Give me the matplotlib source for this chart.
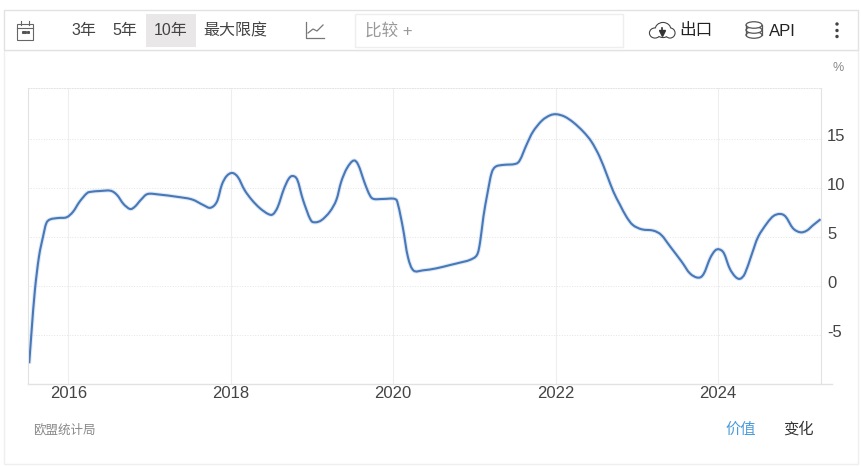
import matplotlib
matplotlib.use("Agg")
import matplotlib.pyplot as plt
from matplotlib.patches import Rectangle, Ellipse, Circle, PathPatch
from matplotlib.path import Path
from matplotlib.transforms import ScaledTranslation

years = [
    2015.52, 2015.55, 2015.59, 2015.64, 2015.69, 2015.73, 2015.78, 2015.88, 2015.98, 2016.06, 2016.14, 2016.23,
    2016.29, 2016.39, 2016.52, 2016.60, 2016.68, 2016.76, 2016.82, 2016.90, 2016.98, 2017.13, 2017.33, 2017.52,
    2017.66, 2017.75, 2017.83, 2017.89, 2017.95, 2018.02, 2018.09, 2018.17, 2018.26, 2018.36, 2018.46, 2018.52,
    2018.58, 2018.65, 2018.71, 2018.76, 2018.82, 2018.89, 2018.98, 2019.04, 2019.12, 2019.22, 2019.30, 2019.36,
    2019.43, 2019.51, 2019.57, 2019.65, 2019.71, 2019.76, 2019.88, 2020.02, 2020.06, 2020.12, 2020.18, 2020.25,
    2020.37, 2020.53, 2020.70, 2020.82, 2020.94, 2021.03, 2021.07, 2021.11, 2021.16, 2021.21, 2021.26, 2021.35,
    2021.50, 2021.56, 2021.64, 2021.72, 2021.83, 2021.93, 2022.01, 2022.11, 2022.22, 2022.34, 2022.44, 2022.54,
    2022.63, 2022.71, 2022.79, 2022.87, 2022.95, 2023.06, 2023.20, 2023.30, 2023.41, 2023.55, 2023.65, 2023.75,
    2023.82, 2023.90, 2023.96, 2024.01, 2024.07, 2024.14, 2024.21, 2024.27, 2024.33, 2024.41, 2024.49, 2024.60,
    2024.68, 2024.76, 2024.83, 2024.92, 2025.01, 2025.09, 2025.17, 2025.26,
]
values = [
    -7.89, -4.49, -0.41, 2.99, 5.03, 6.39, 6.80, 6.94, 7.01, 7.58, 8.60, 9.46,
    9.62, 9.69, 9.72, 9.29, 8.37, 7.86, 8.09, 8.84, 9.39, 9.32, 9.11, 8.84,
    8.27, 7.98, 8.60, 10.31, 11.22, 11.53, 11.09, 9.80, 8.78, 7.93, 7.35, 7.32,
    8.09, 9.80, 10.89, 11.22, 10.82, 8.78, 6.80, 6.50, 6.73, 7.58, 8.78, 10.64,
    12.01, 12.79, 12.35, 10.48, 9.29, 8.88, 8.88, 8.88, 8.27, 5.89, 2.99, 1.58,
    1.60, 1.80, 2.14, 2.38, 2.65, 3.16, 4.52, 7.07, 9.46, 11.50, 12.17, 12.35,
    12.45, 12.86, 14.39, 15.74, 16.87, 17.41, 17.52, 17.28, 16.67, 15.74, 14.72, 13.19,
    11.33, 9.62, 8.30, 7.07, 6.22, 5.78, 5.65, 5.20, 4.01, 2.48, 1.30, 0.85,
    1.22, 2.83, 3.60, 3.74, 3.34, 1.81, 0.95, 0.74, 1.30, 3.16, 4.99, 6.40,
    7.14, 7.35, 7.07, 5.89, 5.48, 5.65, 6.22, 6.81,
]
xTicks = [2016, 2018, 2020, 2022, 2024]
yTicks = [-5, 0, 5, 10, 15]
rangeButtons = ["3年", "5年", "10年", "最大限度"]
sourceLabel = "欧盟统计局"

W, H = 862, 466
FONT = ["Liberation Sans", "Noto Sans CJK SC"]
plt.rcParams["font.family"] = FONT
BORDER = "#e2e2e2"
LINE = "#4878b8"


def smoothPath(xs, ys):
    # the site draws a spline through the points, so use bezier handles rather than straight segments
    verts = [(xs[0], ys[0])]
    codes = [Path.MOVETO]
    n = len(xs)
    for i in range(n - 1):
        p0 = max(i - 1, 0)
        p3 = min(i + 2, n - 1)
        verts.append((xs[i] + (xs[i + 1] - xs[p0]) / 6, ys[i] + (ys[i + 1] - ys[p0]) / 6))
        verts.append((xs[i + 1] - (xs[p3] - xs[i]) / 6, ys[i + 1] - (ys[p3] - ys[i]) / 6))
        verts.append((xs[i + 1], ys[i + 1]))
        codes += [Path.CURVE4, Path.CURVE4, Path.CURVE4]
    return Path(verts, codes)


fig = plt.figure(figsize=(W / 100, H / 100), dpi=100, facecolor="white")

# page furniture drawn in pixel coordinates
bg = fig.add_axes([0, 0, 1, 1])
bg.set_xlim(0, W)
bg.set_ylim(H, 0)
bg.axis("off")
bg.add_patch(Rectangle((4, 50), 854, 414, fc="white", ec="#efefef", lw=1))
bg.add_patch(Rectangle((4, 10), 854, 40, fc="white", ec=BORDER, lw=1))
bg.add_patch(Rectangle((146, 14), 50, 33, fc="#e9e7e7", ec="none"))
bg.add_patch(Rectangle((355, 14), 268, 33, fc="white", ec="#eeeeee", lw=1))

# calendar icon
bg.add_patch(Rectangle((17.5, 24), 16, 16, fc="none", ec="#666666", lw=0.8))
bg.plot([17.5, 33.5], [28, 28], color="#666666", lw=0.8)
bg.plot([21.5, 21.5], [21, 25], color="#666666", lw=0.8)
bg.plot([29.5, 29.5], [21, 25], color="#666666", lw=0.8)
bg.plot([23, 25.5, 28], [32, 32, 32], ls="none", marker="s", ms=1.2, color="#555555")

# chart type icon
bg.plot([306, 306, 324], [22, 38, 38], color="#777777", lw=0.9)
bg.plot([308, 313, 317, 323], [33, 29, 31, 25], color="#777777", lw=0.9)

# cloud icon
cloud = [(655, 33, 10, 9), (663, 30, 15, 14), (670, 33, 9, 9)]
for (cx, cy, ew, eh) in cloud:
    bg.add_patch(Ellipse((cx, cy), ew, eh, fc="white", ec="#444444", lw=1.6, zorder=3))
for (cx, cy, ew, eh) in cloud:
    bg.add_patch(Ellipse((cx, cy), ew, eh, fc="white", ec="none", zorder=4))
bg.plot([662.5, 662.5], [28, 32], color="#333333", lw=1.2, zorder=5)
bg.plot([662.5], [33], marker="v", ms=4, color="#333333", zorder=5)

# database icon
for cy in [35, 30, 25]:
    bg.add_patch(Ellipse((754, cy), 16, 6.5, fc="white", ec="#555555", lw=0.9))
bg.plot([746, 746], [25, 35], color="#555555", lw=0.9)
bg.plot([762, 762], [25, 35], color="#555555", lw=0.9)

for cy in [24, 30.5, 36.5]:
    bg.add_patch(Circle((837, cy), 1.7, fc="#444444", ec="none"))

for (label, cx) in zip(rangeButtons, [84, 125, 171, 235]):
    bg.text(cx, 31, label, ha="center", va="center", fontsize=11.5, color="#444444")
bg.text(365, 31, "比较 +", ha="left", va="center", fontsize=12, color="#999999")
bg.text(679, 31, "出口", ha="left", va="center", fontsize=12, color="#222222")
bg.text(769, 31, "API", ha="left", va="center", fontsize=12, color="#222222")
bg.text(838, 68, "%", ha="center", va="center", fontsize=9, color="#888888")
bg.text(33, 430.5, sourceLabel, ha="left", va="center", fontsize=9, color="#888888")
bg.text(741, 429.5, "价值", ha="center", va="center", fontsize=11, color="#4a9bdc")
bg.text(798, 429.5, "变化", ha="center", va="center", fontsize=11, color="#333333")
bg.plot([28, 832], [384, 384], color=BORDER, lw=1)

# the chart itself
ax = fig.add_axes([28 / W, 1 - 384 / H, (821 - 28) / W, (384 - 88) / H])
ax.patch.set_alpha(0)
ax.set_xlim(2015.505, 2025.265)
ax.set_ylim(-10, 20.2)
curve = smoothPath(years, values)
ax.add_patch(PathPatch(curve, fc="none", ec="#c4d8f0", lw=3.0, alpha=0.55, capstyle="butt"))
ax.add_patch(PathPatch(curve, fc="none", ec=LINE, lw=1.5, capstyle="butt"))
ax.set_xticks(xTicks)
ax.set_xticklabels([str(y) for y in xTicks])
ax.yaxis.tick_right()
ax.set_yticks(yTicks)
ax.set_yticklabels([str(y) for y in yTicks], ha="left", va="center")
ax.tick_params(axis="both", length=0, labelsize=12, labelcolor="#444444")
ax.tick_params(axis="x", pad=1.5)
ax.tick_params(axis="y", pad=4.5)
ax.grid(axis="x", color="#eeeeee", lw=0.8)
ax.grid(axis="y", color="#e4e4e4", lw=0.7, ls=":")
ax.set_axisbelow(True)
for side in ["left", "right"]:
    ax.spines[side].set_color(BORDER)
    ax.spines[side].set_linewidth(0.8)
ax.spines["bottom"].set_visible(False)
ax.spines["top"].set_color("#e4e4e4")
ax.spines["top"].set_linestyle(":")
ax.spines["top"].set_linewidth(0.7)
# y labels sit a touch above their gridlines
nudge = ScaledTranslation(0, 2 / 100, fig.dpi_scale_trans)
for lab in ax.get_yticklabels():
    lab.set_transform(lab.get_transform() + nudge)

fig.savefig("out.png", dpi=100)
